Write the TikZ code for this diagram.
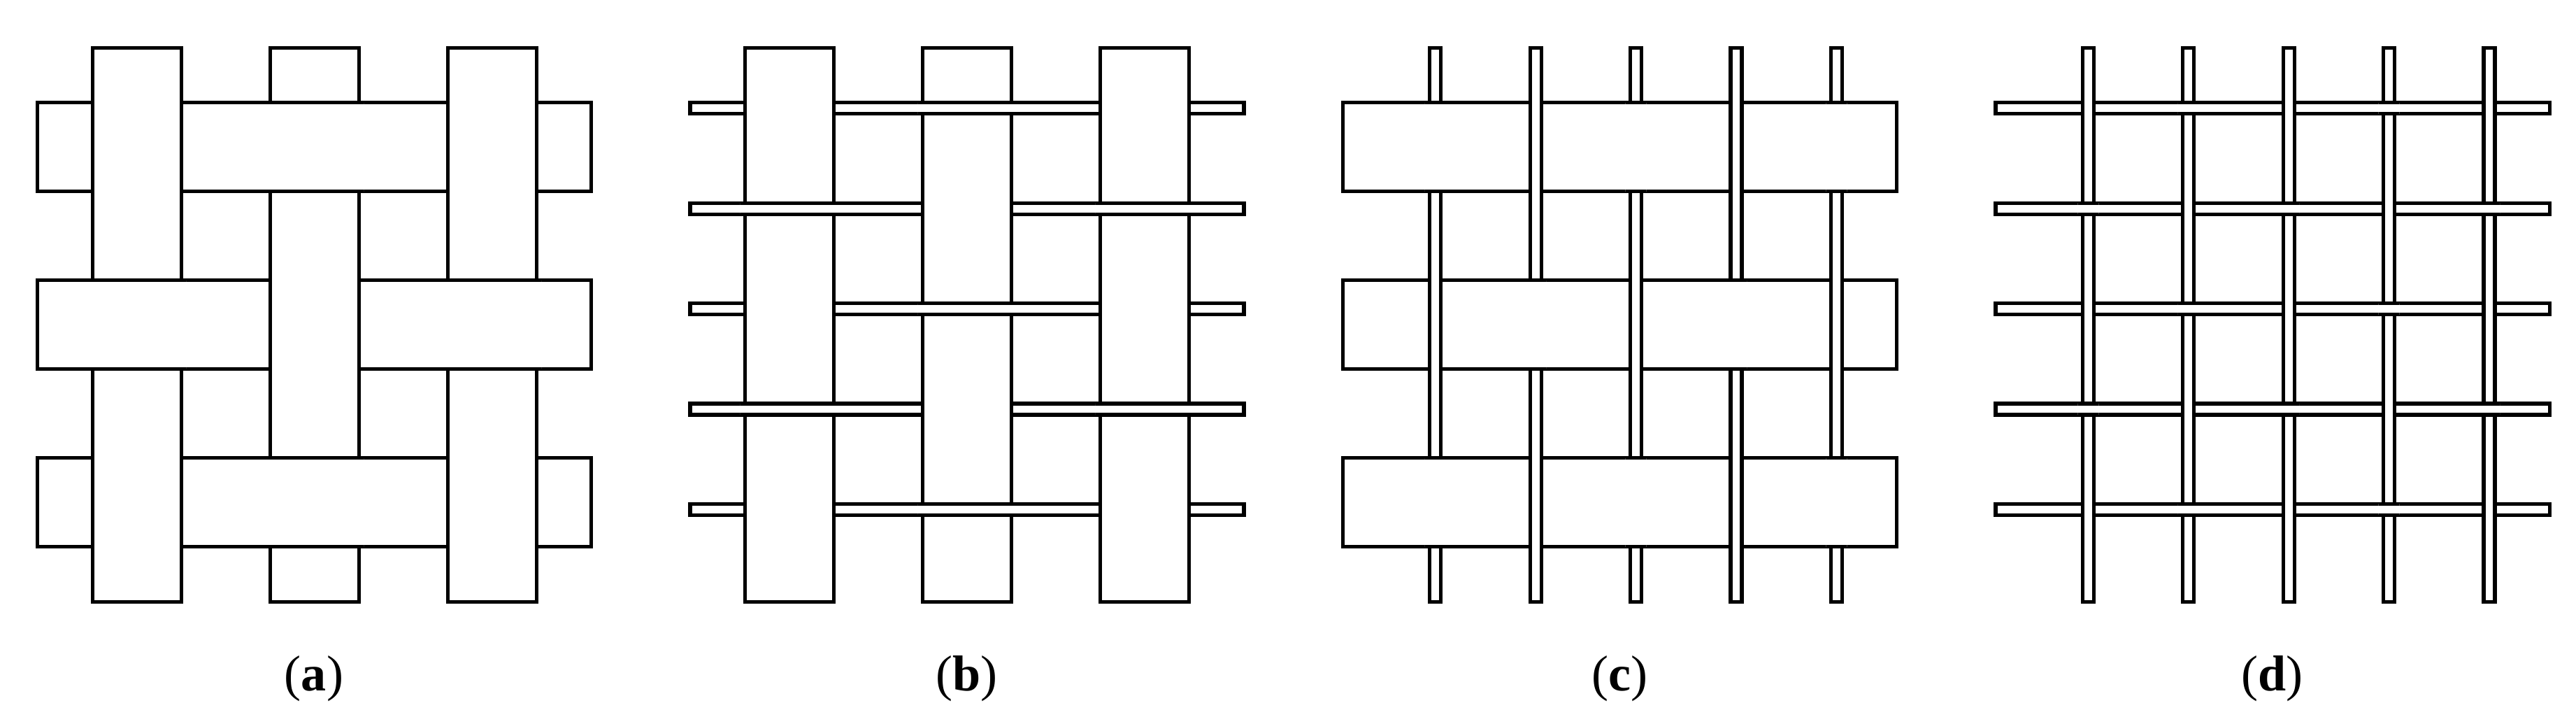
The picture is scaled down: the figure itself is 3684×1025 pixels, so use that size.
\documentclass[tikz,border=0pt]{standalone}
\usepackage{fontspec}
\setmainfont{Liberation Serif}
\tikzset{
  strip/.style={draw=black, fill=white, line width=0.053cm},
  sublabel/.style={anchor=base, inner sep=0pt, font=\fontsize{20.5}{24}\selectfont}
}
% #1 x offset, #2 left edges of vertical strips, #3 their width,
% #4 top edges of horizontal strips, #5 their height, #6 parity
\newcommand{\weavepanel}[6]{%
  \foreach \hy in {#4} \draw[strip] (#1+53.3,\hy) rectangle (#1+845.4,\hy+#5);
  \foreach \vx in {#2} \draw[strip] (#1+\vx,68.5) rectangle (#1+\vx+#3,860.5);
  \foreach \hy [count=\i] in {#4} {
    \foreach \vx [count=\j] in {#2} {
      \pgfmathtruncatemacro{\wpar}{mod(\i+\j+#6,2)}
      \ifnum\wpar=1
        \begin{scope}
          \clip (#1+\vx-7,\hy-7) rectangle (#1+\vx+#3+7,\hy+#5+7);
          \draw[strip] (#1+53.3,\hy) rectangle (#1+845.4,\hy+#5);
        \end{scope}
      \fi
    }
  }
}
\begin{document}
\begin{tikzpicture}[x=0.01cm, y=-0.01cm]
  \useasboundingbox (0,0) rectangle (3684,1025);
  % (a)
  \weavepanel{0}{132.2,386.2,640.2}{127}{146.8,400.8,654.8}{127}{0}
  % (b)
  \weavepanel{933.6}{132.2,386.2,640.2}{127}{146.8,290.2,433.6,577.0,720.4}{16}{0}
  % (c)
  \weavepanel{1867.2}{177.6,321.0,464.4,607.8,751.2}{16}{146.8,400.8,654.8}{127}{1}
  % (d)
  \weavepanel{2800.8}{177.6,321.0,464.4,607.8,751.2}{16}{146.8,290.2,433.6,577.0,720.4}{16}{0}
  % labels
  \node[sublabel] (la) at (449,987) {(\textbf{a})};
  \node[sublabel] (lb) at (1382.6,987) {(\textbf{b})};
  \node[sublabel] (lc) at (2316.2,987) {(\textbf{c})};
  \node[sublabel] (ld) at (3249.8,987) {(\textbf{d})};
\end{tikzpicture}
\end{document}
